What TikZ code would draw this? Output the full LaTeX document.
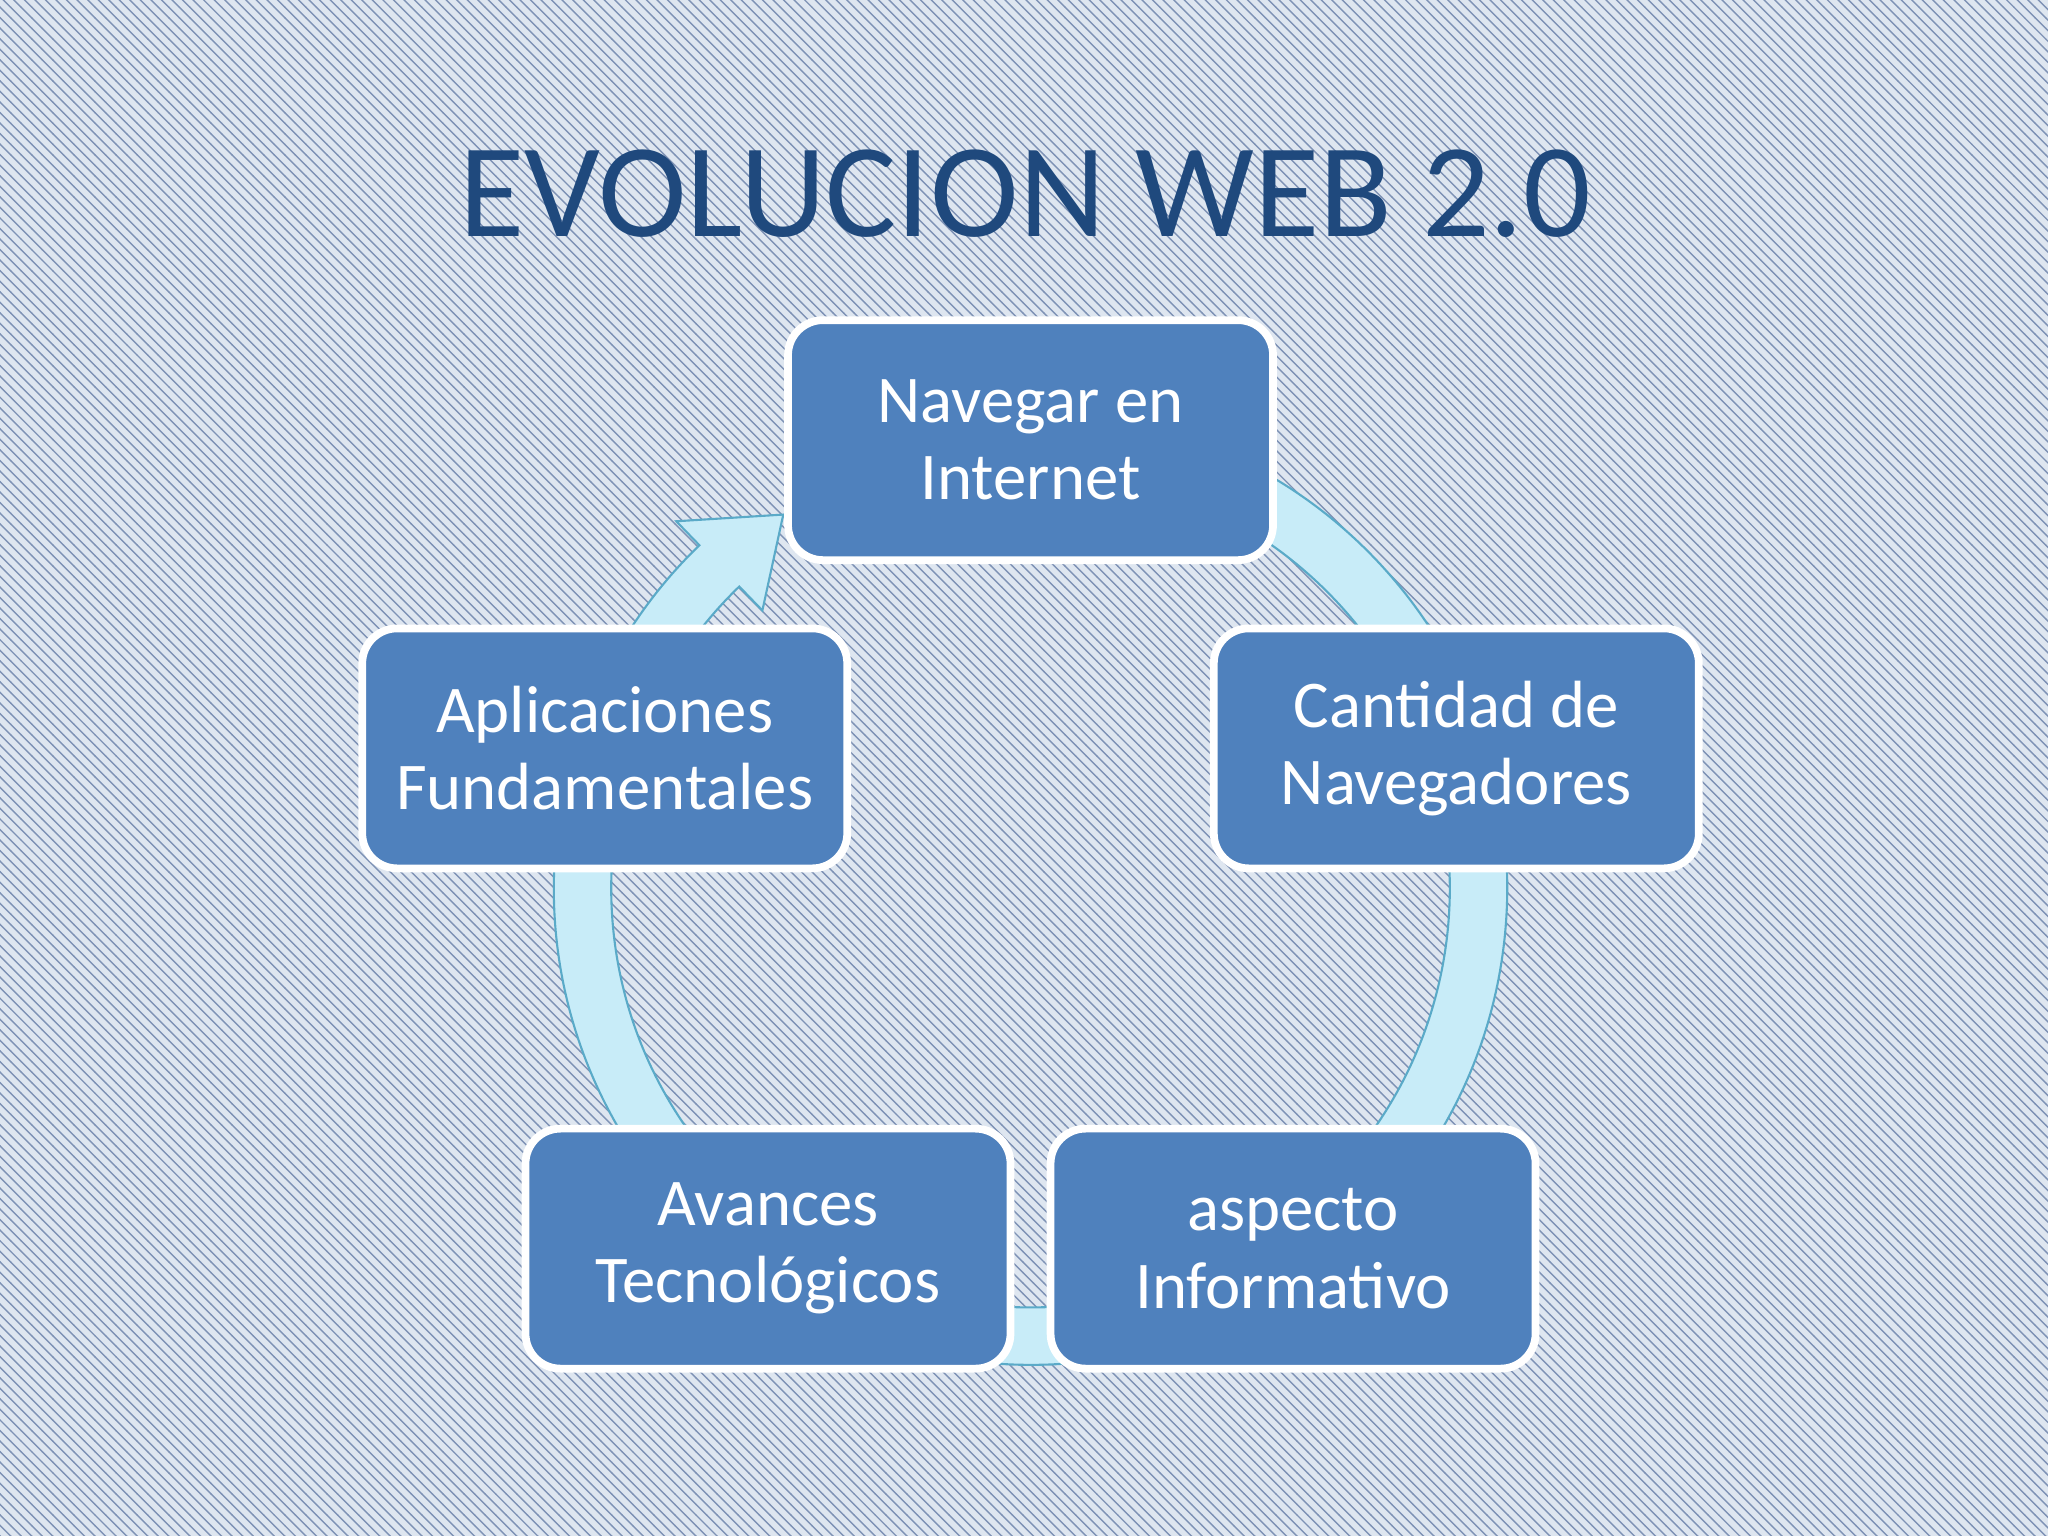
\documentclass[tikz,border=0pt]{standalone}
\usepackage{fontspec}
\setmainfont{Carlito}
\usetikzlibrary{patterns}
\definecolor{boxblue}{RGB}{79,129,189}
\definecolor{titleblue}{RGB}{31,73,125}
\definecolor{ringfill}{RGB}{200,236,248}
\definecolor{ringline}{RGB}{90,170,200}
\definecolor{bgc}{RGB}{222,230,240}
\definecolor{stripe}{RGB}{70,100,150}
\begin{document}
\begin{tikzpicture}[x=0.013061cm,y=0.013061cm,
  stage/.style={draw=white,line width=2.2pt,fill=boxblue,rounded corners=0.35cm,
    minimum width=4.85cm,minimum height=2.40cm,text=white,align=center,
    font=\fontsize{19}{22}\selectfont}]
\fill[bgc] (0,0) rectangle (1568,1176);
\fill[pattern=north west lines,pattern color=stripe!70] (0,0) rectangle (1568,1176);
\useasboundingbox (0,0) rectangle (1568,1176);
\node[text=titleblue,font=\fontsize{38}{44}\selectfont] (title) at (785,1028) {EVOLUCION WEB 2.0};
\coordinate (c) at (789,496);
% ring arrow
\fill[ringfill,draw=ringline,line width=0.6pt]
  ([shift={(85:4.767cm)}]c) arc[start angle=85,end angle=-226,radius=4.767cm]
  -- ([shift={(-226:5.10cm)}]c)
  -- ([shift={(-236.5:4.48cm)}]c)
  -- ([shift={(-226:3.86cm)}]c)
  -- ([shift={(-226:4.193cm)}]c)
  arc[start angle=-226,end angle=85,radius=4.193cm] -- cycle;
\node[stage] (n1) at (789,839) {Navegar en\\Internet};
\node[stage] (n2) at (1115,603) {Cantidad de\\Navegadores};
\node[stage] (n3) at (990,220) {aspecto\\Informativo};
\node[stage] (n4) at (588,220) {Avances\\Tecnológicos};
\node[stage] (n5) at (463,603) {Aplicaciones\\Fundamentales};
\end{tikzpicture}
\end{document}
